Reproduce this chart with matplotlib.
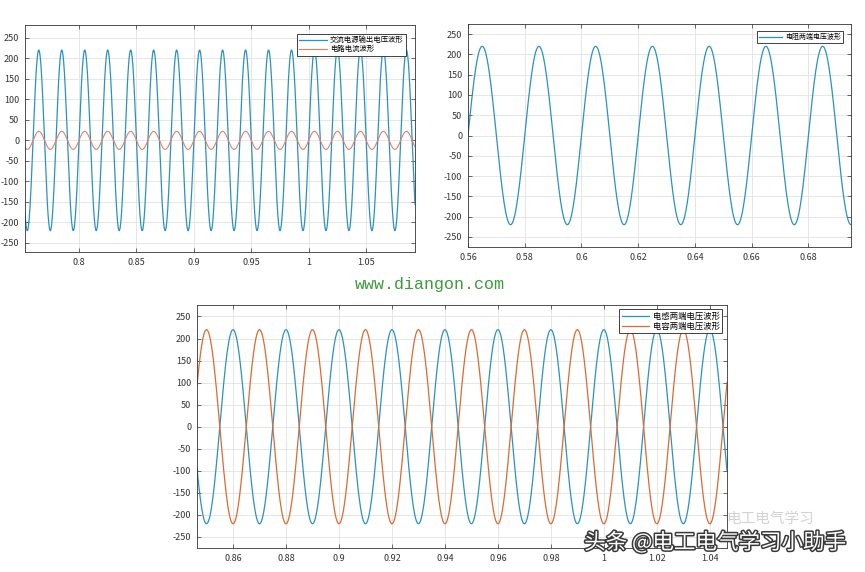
import numpy as np
import matplotlib
matplotlib.use('Agg')
import matplotlib.pyplot as plt
import matplotlib.patheffects as pe

plt.rcParams['font.family'] = ['Noto Sans CJK SC', 'DejaVu Sans']

# waveform parameters (50 Hz mains, 220 V peak)
freq = 50.0
v_amp = 220.0
i_amp = 22.0

# time windows shown in each panel
t1_lim = (0.753, 1.0925)
t2_lim = (0.56, 0.695)
t3_lim = (0.8464, 1.0465)

y1_lim = (-272, 281)
y2_lim = (-275, 275)
y3_lim = (-275, 276)

yticks = [-250, -200, -150, -100, -50, 0, 50, 100, 150, 200, 250]
xticks1 = [0.8, 0.85, 0.9, 0.95, 1.0, 1.05]
xticks2 = [0.56, 0.58, 0.6, 0.62, 0.64, 0.66, 0.68]
xticks3 = [0.86, 0.88, 0.9, 0.92, 0.94, 0.96, 0.98, 1.0, 1.02, 1.04]

labels1 = ['交流电源输出电压波形', '电路电流波形']
labels2 = ['电阻两端电压波形']
labels3 = ['电感两端电压波形', '电容两端电压波形']

blue = '#2a92c2'
orange = '#dc6a33'
red_light = '#e0826a'


def style_axes(ax, xlim, ylim, xticks):
    ax.set_xlim(*xlim)
    ax.set_ylim(*ylim)
    ax.set_xticks(xticks)
    ax.set_xticklabels(['%g' % v for v in xticks])
    ax.set_yticks(yticks)
    ax.set_yticklabels(['%g' % v for v in yticks])
    ax.grid(True, color='#e2e2e2', linewidth=0.6)
    ax.set_axisbelow(True)
    ax.tick_params(direction='in', length=3, width=0.5, labelsize=6.5,
                   colors='#333333', top=True, right=True, pad=4)
    for s in ax.spines.values():
        s.set_color('#333333')
        s.set_linewidth(0.6)


def add_legend(ax, fs, dx, dy, hl):
    w = ax.get_position().width * 865
    h = ax.get_position().height * 572
    leg = ax.legend(loc='upper right', bbox_to_anchor=(1 - dx / w, 1 - dy / h),
                    fontsize=fs, fancybox=False, framealpha=1, edgecolor='#222222',
                    borderpad=0.3, labelspacing=0.15, handlelength=hl,
                    handletextpad=0.4, borderaxespad=0)
    leg.get_frame().set_linewidth(0.6)


fig = plt.figure(figsize=(8.65, 5.72), dpi=100)

# panel 1: source voltage and circuit current
ax1 = fig.add_axes([25 / 865, 1 - 252 / 572, 390 / 865, 227 / 572])
t1 = np.linspace(t1_lim[0], t1_lim[1], 4000)
ax1.plot(t1, v_amp * np.sin(2 * np.pi * freq * t1), color=blue, lw=0.9, label=labels1[0])
ax1.plot(t1, i_amp * np.sin(2 * np.pi * freq * t1), color=red_light, lw=0.8, label=labels1[1])
style_axes(ax1, t1_lim, y1_lim, xticks1)
add_legend(ax1, 5.3, 9, 9, 3.8)

# panel 2: resistor voltage
ax2 = fig.add_axes([468 / 865, 1 - 247 / 572, 383 / 865, 223 / 572])
t2 = np.linspace(t2_lim[0], t2_lim[1], 3000)
ax2.plot(t2, v_amp * np.sin(2 * np.pi * freq * t2), color=blue, lw=0.9, label=labels2[0])
style_axes(ax2, t2_lim, y2_lim, xticks2)
add_legend(ax2, 5.0, 8, 7, 3.3)

# panel 3: inductor and capacitor voltages
ax3 = fig.add_axes([197 / 865, 1 - 548 / 572, 530 / 865, 243 / 572])
t3 = np.linspace(t3_lim[0], t3_lim[1], 4000)
ax3.plot(t3, v_amp * np.cos(2 * np.pi * freq * t3), color=blue, lw=0.9, label=labels3[0])
ax3.plot(t3, -v_amp * np.cos(2 * np.pi * freq * t3), color=orange, lw=0.9, label=labels3[1])
style_axes(ax3, t3_lim, y3_lim, xticks3)
add_legend(ax3, 6.0, 5, 4, 3.3)

# watermarks
fig.text(430 / 865, 1 - 285 / 572, 'www.diangon.com', family='Liberation Mono',
         fontsize=12, color='#3d9a3d', ha='center', va='center')
fig.text(770 / 865, 1 - 519 / 572, '电工电气学习', fontsize=10.5, color='#c8c8c8',
         ha='center', va='center', alpha=0.8)
t = fig.text(715 / 865, 1 - 543 / 572, '头条 @电工电气学习小助手', fontsize=15.5,
             color='white', ha='center', va='center')
t.set_path_effects([pe.withStroke(linewidth=2.2, foreground='#3a3a3a')])

fig.savefig('out.png', dpi=100, facecolor='white')
